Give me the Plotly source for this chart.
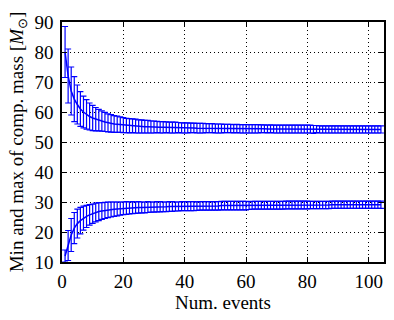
import plotly.graph_objects as go

num_events = list(range(1, 105))

max_mean = [80, 72, 67, 64.3, 62.5, 61, 60, 59.2, 58.5, 58,
            57.6, 57.3, 57, 56.7, 56.4, 56.2, 56, 55.9, 55.8, 55.6,
            55.5, 55.4, 55.4, 55.3, 55.2, 55.2, 55.1, 55.1, 55, 55,
            55, 54.9, 54.9, 54.9, 54.8, 54.8, 54.8, 54.8, 54.7, 54.7,
            54.7, 54.7, 54.7, 54.6, 54.6, 54.6, 54.6, 54.6, 54.6, 54.5,
            54.5, 54.5, 54.5, 54.5, 54.5, 54.4, 54.5, 54.4, 54.4, 54.4,
            54.4, 54.4, 54.4, 54.4, 54.4, 54.4, 54.3, 54.4, 54.3, 54.3,
            54.3, 54.3, 54.3, 54.3, 54.3, 54.3, 54.3, 54.3, 54.3, 54.3,
            54.3, 54.2, 54.3, 54.2, 54.2, 54.2, 54.2, 54.2, 54.2, 54.2,
            54.2, 54.2, 54.2, 54.2, 54.2, 54.2, 54.2, 54.2, 54.2, 54.2,
            54.2, 54.2, 54.2, 54.2]
max_err = [8.5, 9, 8, 7.5, 6.5, 5.8, 5.3, 4.9, 4.5, 4.2,
           3.9, 3.6, 3.4, 3.2, 3.0, 2.9, 2.8, 2.7, 2.6, 2.5,
           2.4, 2.4, 2.3, 2.3, 2.2, 2.2, 2.1, 2.1, 2.0, 2.0,
           1.9, 1.9, 1.9, 1.8, 1.8, 1.8, 1.8, 1.7, 1.7, 1.7,
           1.7, 1.6, 1.6, 1.6, 1.6, 1.6, 1.5, 1.5, 1.5, 1.5,
           1.5, 1.5, 1.4, 1.4, 1.4, 1.4, 1.4, 1.4, 1.4, 1.4,
           1.4, 1.4, 1.4, 1.4, 1.3, 1.3, 1.3, 1.3, 1.3, 1.3,
           1.3, 1.3, 1.3, 1.3, 1.3, 1.3, 1.3, 1.3, 1.3, 1.3,
           1.3, 1.3, 1.2, 1.2, 1.2, 1.2, 1.2, 1.2, 1.2, 1.2,
           1.2, 1.2, 1.2, 1.2, 1.2, 1.2, 1.2, 1.2, 1.2, 1.2,
           1.2, 1.2, 1.2, 1.2]

min_mean = [12, 15.5, 19, 21.3, 22.8, 23.8, 24.6, 25.2, 25.7, 26.1,
            26.5, 26.8, 27, 27.2, 27.4, 27.5, 27.6, 27.7, 27.8, 27.9,
            28, 28, 28.1, 28.1, 28.2, 28.2, 28.2, 28.3, 28.3, 28.3,
            28.4, 28.4, 28.4, 28.4, 28.5, 28.5, 28.5, 28.5, 28.6, 28.6,
            28.6, 28.6, 28.6, 28.6, 28.7, 28.7, 28.7, 28.7, 28.7, 28.7,
            28.7, 28.8, 28.8, 28.8, 28.8, 28.8, 28.8, 28.8, 28.8, 28.8,
            28.8, 28.9, 28.9, 28.9, 28.9, 28.9, 28.9, 28.9, 28.9, 28.9,
            28.9, 28.9, 29, 29, 29, 29, 29, 29, 29, 29,
            29, 29, 29, 29, 29, 29, 29, 29.1, 29.1, 29.1,
            29.1, 29.1, 29.1, 29.1, 29.1, 29.1, 29.1, 29.1, 29.1, 29.1,
            29.1, 29.1, 29.1, 29.1]
min_err = [2, 5, 5.5, 5.2, 4.8, 4.4, 4.0, 3.7, 3.4, 3.2,
           3.1, 3.0, 2.8, 2.7, 2.6, 2.5, 2.4, 2.3, 2.2, 2.1,
           2.1, 2.0, 2.0, 1.9, 1.9, 1.8, 1.8, 1.8, 1.7, 1.7,
           1.7, 1.7, 1.6, 1.6, 1.6, 1.6, 1.5, 1.5, 1.5, 1.5,
           1.5, 1.5, 1.5, 1.4, 1.4, 1.4, 1.4, 1.4, 1.4, 1.4,
           1.4, 1.4, 1.4, 1.4, 1.4, 1.4, 1.4, 1.4, 1.4, 1.4,
           1.3, 1.3, 1.3, 1.3, 1.3, 1.3, 1.3, 1.3, 1.3, 1.3,
           1.3, 1.3, 1.3, 1.3, 1.3, 1.3, 1.3, 1.3, 1.3, 1.3,
           1.2, 1.2, 1.2, 1.2, 1.2, 1.2, 1.2, 1.2, 1.2, 1.2,
           1.2, 1.2, 1.2, 1.2, 1.2, 1.2, 1.2, 1.2, 1.2, 1.2,
           1.2, 1.2, 1.2, 1.2]

x_ticks = [0, 20, 40, 60, 80, 100]
y_ticks = [10, 20, 30, 40, 50, 60, 70, 80, 90]

BLUE = "#0000ff"
fig = go.Figure()
for mean, err in [(max_mean, max_err), (min_mean, min_err)]:
    fig.add_trace(go.Scatter(
        x=num_events, y=mean, mode="lines",
        line=dict(color=BLUE, width=1.5),
        error_y=dict(type="data", array=err, visible=True,
                     color=BLUE, thickness=1.2, width=3),
        showlegend=False, hoverinfo="skip"))

font = dict(family="Liberation Serif, Times New Roman, serif", size=19, color="black")
axis_common = dict(
    showline=True, linecolor="black", linewidth=1.5, mirror="ticks",
    ticks="inside", ticklen=5, tickcolor="black", tickwidth=1,
    showgrid=True, gridcolor="black", gridwidth=1, griddash="1px,3px",
    zeroline=False, tickfont=font, automargin=False)

fig.update_layout(
    width=394, height=320,
    margin=dict(l=62, r=10, t=22, b=58),
    paper_bgcolor="white", plot_bgcolor="white",
    font=font,
    xaxis=dict(range=[0, 105], tickvals=x_ticks, ticklabelstandoff=1,
               title=dict(text="Num. events", font=font, standoff=4),
               **axis_common),
    yaxis=dict(range=[10, 90], tickvals=y_ticks, ticklabelstandoff=3,
               title=dict(text="Min and max of comp. mass [<i>M</i><sub>⊙</sub>]",
                          font=font, standoff=6),
               **axis_common),
)
fig.write_html("out.html", config={"displayModeBar": False},
               post_script="document.body.style.margin='0';document.body.style.padding='0';")
